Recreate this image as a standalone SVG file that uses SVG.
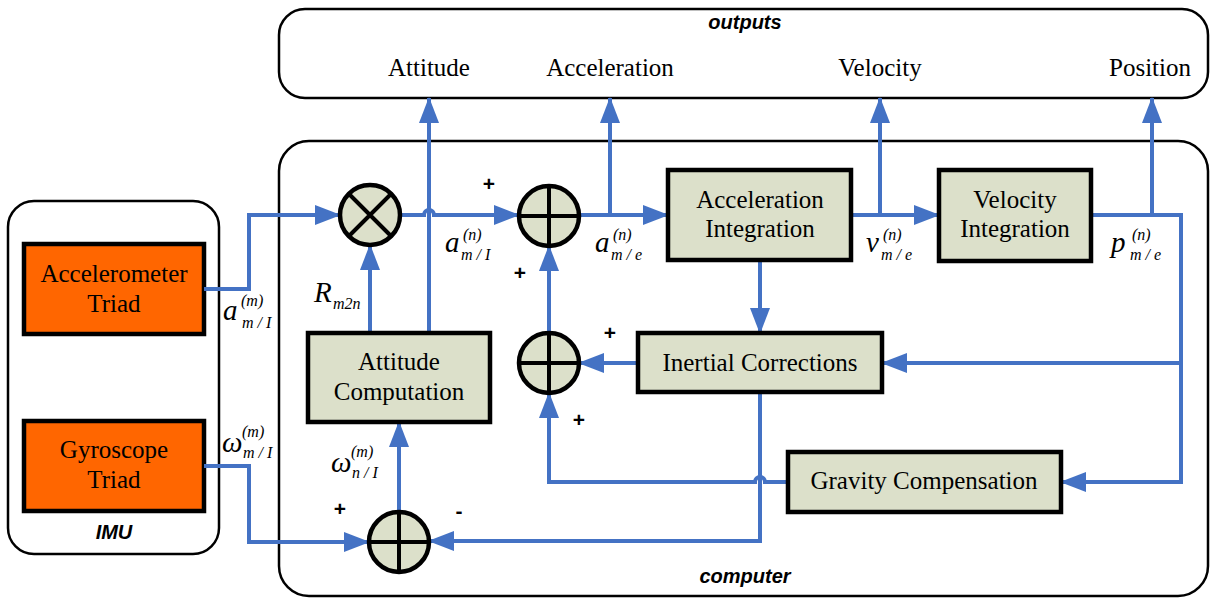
<svg xmlns="http://www.w3.org/2000/svg" width="1211" height="598" viewBox="0 0 1211 598">
<style>
.cont{fill:#fff;stroke:#000;stroke-width:2.5}
.box{fill:#DCE0CA;stroke:#000;stroke-width:4.5}
.org{fill:#FF6600;stroke:#000;stroke-width:4.5}
.sym{fill:#DCE0CA;stroke:#000;stroke-width:4.5}
.symln{stroke:#000;stroke-width:4;fill:none}
.ln{stroke:#4472C4;stroke-width:4;fill:none}
.ar{marker-end:url(#ah)}
.t{font-family:"Liberation Serif","Times New Roman",serif;font-size:25px;text-anchor:middle;fill:#000}
.lbl{font-family:"Liberation Sans",Arial,sans-serif;font-size:20px;font-weight:bold;font-style:italic;text-anchor:middle;fill:#000}
.sg{font-family:"Liberation Sans",Arial,sans-serif;font-size:21px;font-weight:bold;text-anchor:middle;fill:#000}
.m{font-family:"Liberation Serif","Times New Roman",serif;font-style:italic;font-size:29px;fill:#000}
.s{font-family:"Liberation Serif","Times New Roman",serif;font-style:italic;font-size:16px;fill:#000}
</style>
<defs>
<marker id="ah" viewBox="0 0 26 20" refX="25" refY="10" markerWidth="26" markerHeight="20" markerUnits="userSpaceOnUse" orient="auto">
<path d="M0,0 L26,10 L0,20 z" fill="#4472C4"/>
</marker>
</defs>

<g id="outputs">
<rect class="cont" x="279" y="9" width="929" height="89" rx="26"/>
<text class="lbl" x="745" y="29">outputs</text>
<text class="t" x="429" y="76">Attitude</text>
<text class="t" x="610" y="76">Acceleration</text>
<text class="t" x="880" y="76">Velocity</text>
<text class="t" x="1150" y="76">Position</text>
</g>

<g id="computer">
<rect class="cont" x="279" y="141" width="929" height="455" rx="30"/>
<text class="lbl" x="745" y="583">computer</text>
</g>

<g id="imu">
<rect class="cont" x="8" y="201" width="211" height="353" rx="26"/>
<text class="lbl" x="114" y="539">IMU</text>
</g>

<g id="accelerometer">
<rect class="org" x="24" y="244" width="180" height="90"/>
<text class="t" x="114" y="282">Accelerometer</text>
<text class="t" x="114" y="312">Triad</text>
</g>

<g id="gyroscope">
<rect class="org" x="24" y="421" width="180" height="90"/>
<text class="t" x="114" y="458">Gyroscope</text>
<text class="t" x="114" y="488">Triad</text>
</g>

<g id="connectors">
<path class="ln ar" d="M204,289 H249 V215 H340"/>
<path class="ln ar" d="M204,466 H249 V542 H369"/>
<path class="ln ar" d="M400,215 H424 A5,5 0 0 1 434,215 H519"/>
<path class="ln ar" d="M399,512 V422"/>
<path class="ln ar" d="M370,333 V245"/>
<path class="ln ar" d="M429,333 V98"/>
<path class="ln ar" d="M579,215 H668"/>
<path class="ln ar" d="M610,215 V98"/>
<path class="ln ar" d="M851,215 H939"/>
<path class="ln ar" d="M880,215 V98"/>
<path class="ln ar" d="M1091,215 H1181 V482 H1061"/>
<path class="ln ar" d="M1152,215 V98"/>
<path class="ln ar" d="M1181,363 H882"/>
<path class="ln ar" d="M760,260 V333"/>
<path class="ln ar" d="M638,363 H579"/>
<path class="ln ar" d="M549,333 V246"/>
<path class="ln ar" d="M788,482 H765 A5,5 0 0 0 755,482 H549 V393"/>
<path class="ln ar" d="M760,392 V541 H429"/>
</g>

<g id="mult">
<circle class="sym" cx="370" cy="215" r="30"/>
<path class="symln" d="M349,194 L391,236 M391,194 L349,236"/>
</g>

<g id="sum1">
<circle class="sym" cx="549" cy="216" r="30"/>
<path class="symln" d="M519,216 H579 M549,186 V246"/>
</g>

<g id="sum2">
<circle class="sym" cx="549" cy="363" r="30"/>
<path class="symln" d="M519,363 H579 M549,333 V393"/>
</g>

<g id="sum3">
<circle class="sym" cx="399" cy="542" r="30"/>
<path class="symln" d="M369,542 H429 M399,512 V572"/>
</g>

<g id="attitude-computation">
<rect class="box" x="308" y="333" width="182" height="89"/>
<text class="t" x="399" y="370">Attitude</text>
<text class="t" x="399" y="400">Computation</text>
</g>

<g id="acceleration-integration">
<rect class="box" x="668" y="170" width="183" height="90"/>
<text class="t" x="760" y="208">Acceleration</text>
<text class="t" x="760" y="237">Integration</text>
</g>

<g id="velocity-integration">
<rect class="box" x="939" y="170" width="152" height="91"/>
<text class="t" x="1015" y="208">Velocity</text>
<text class="t" x="1015" y="237">Integration</text>
</g>

<g id="inertial-corrections">
<rect class="box" x="638" y="333" width="244" height="59"/>
<text class="t" x="760" y="371">Inertial Corrections</text>
</g>

<g id="gravity-compensation">
<rect class="box" x="788" y="452" width="273" height="60"/>
<text class="t" x="924" y="489">Gravity Compensation</text>
</g>

<g id="signs">
<text class="sg" x="489" y="191">+</text>
<text class="sg" x="520" y="280">+</text>
<text class="sg" x="610" y="340">+</text>
<text class="sg" x="579" y="427">+</text>
<text class="sg" x="340" y="516">+</text>
<text class="sg" x="459" y="518">-</text>
</g>

<g id="math-labels">
<text class="m" x="223" y="320">a</text>
<text class="s" x="241" y="306">(m)</text>
<text class="s" x="242" y="328">m / I</text>

<text class="m" x="222" y="452">ω</text>
<text class="s" x="242" y="437">(m)</text>
<text class="s" x="243" y="458">m / I</text>

<text class="m" x="314" y="302">R</text>
<text class="s" x="333" y="309">m2n</text>

<text class="m" x="445" y="252">a</text>
<text class="s" x="463" y="240">(n)</text>
<text class="s" x="461" y="260">m / I</text>

<text class="m" x="595" y="252">a</text>
<text class="s" x="613" y="240">(n)</text>
<text class="s" x="611" y="260">m / e</text>

<text class="m" x="866" y="252">v</text>
<text class="s" x="883" y="240">(n)</text>
<text class="s" x="881" y="260">m / e</text>

<text class="m" x="1111" y="252">p</text>
<text class="s" x="1132" y="240">(n)</text>
<text class="s" x="1130" y="260">m / e</text>

<text class="m" x="331" y="472">ω</text>
<text class="s" x="351" y="457">(m)</text>
<text class="s" x="352" y="478">n / I</text>
</g>
</svg>
